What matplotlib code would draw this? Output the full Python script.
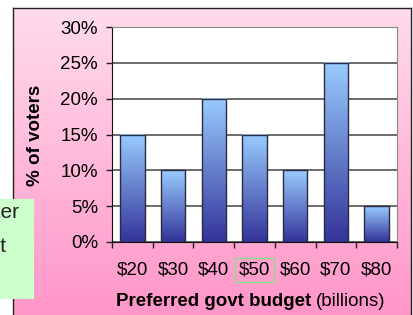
import numpy as np
import matplotlib.pyplot as plt
from matplotlib.colors import LinearSegmentedColormap
from matplotlib.patches import Rectangle

plt.rcParams['font.family'] = ['Liberation Sans', 'DejaVu Sans']

# data
budgets = ['$20', '$30', '$40', '$50', '$60', '$70', '$80']
share = [15, 10, 20, 15, 10, 25, 5]   # % of voters
y_ticks = [0, 5, 10, 15, 20, 25, 30]

W, H = 413, 315
fig = plt.figure(figsize=(W / 100, H / 100), dpi=100)
fig.patch.set_facecolor('white')

# pink gradient panel behind the chart
bg = fig.add_axes([13 / W, 0, 398 / W, 1 - 8 / H], zorder=0)
pink = LinearSegmentedColormap.from_list('pink', ['#ff96c8', '#ffdcec'])
bg.imshow(np.linspace(0, 1, 256).reshape(-1, 1), cmap=pink, aspect='auto',
          origin='lower', extent=(0, 1, 0, 1))
bg.set_xticks([])
bg.set_yticks([])
for s in bg.spines.values():
    s.set_color('#222222')
    s.set_linewidth(1)
bg.spines['bottom'].set_visible(False)

# main plot
ax = fig.add_axes([112 / W, 1 - 242 / H, 285 / W, 215 / H], zorder=2)
ax.set_facecolor('white')
x = np.arange(len(budgets))
bars = ax.bar(x, share, width=0.6, facecolor='none', edgecolor='#2a2a40',
              linewidth=1, zorder=3)

blue = LinearSegmentedColormap.from_list('blue', ['#333399', '#99ccff'])
grad = np.linspace(0, 1, 256).reshape(-1, 1)
for b in bars:
    x0, w, h = b.get_x(), b.get_width(), b.get_height()
    ax.imshow(grad, cmap=blue, aspect='auto', origin='lower',
              extent=(x0, x0 + w, 0, h), zorder=2)

ax.set_xlim(-0.5, len(budgets) - 0.5)
ax.set_ylim(0, 30)
ax.set_axisbelow(True)
ax.yaxis.grid(True, color='#444444', linewidth=1.1)

fs = 13.5
ax.set_yticks(y_ticks)
ax.set_yticklabels([f'{v}%' for v in y_ticks])
ax.tick_params(axis='y', direction='out', length=4, width=1, pad=6,
               labelsize=fs, color='#222222')

ax.set_xticks(x)
ax.set_xticklabels(budgets)
ax.set_xticks(np.arange(-0.5, len(budgets)), minor=True)
ax.tick_params(axis='x', which='major', length=0, pad=14, labelsize=fs)
ax.tick_params(axis='x', which='minor', direction='out', length=4, width=1,
               color='#222222')

for side in ['left', 'bottom']:
    ax.spines[side].set_color('#111111')
for side in ['top', 'right']:
    ax.spines[side].set_color('#888888')

ax.get_xticklabels()[3].set_bbox(dict(facecolor='none', edgecolor='#88dd88',
                                      linewidth=1, pad=2.5))

# axis titles
fig.text(35 / W, 1 - 135 / H, '% of voters', rotation=90, fontweight='bold',
         fontsize=fs, ha='center', va='center')
fig.text(311 / W, 1 - 302 / H, 'Preferred govt budget', fontweight='bold',
         fontsize=fs, ha='right', va='center')
fig.text(316 / W, 1 - 302 / H, '(billions)', fontsize=fs, ha='left',
         va='center')

# green note box cut off at the left edge
fig.patches.append(Rectangle((0, 1 - 299 / H), 34 / W, 100 / H,
                             transform=fig.transFigure, facecolor='#ccffcc',
                             edgecolor='none', zorder=5))
fig.text(19 / W, 1 - 203 / H, 'Median voter\nsets budget\nat $50', fontsize=15,
         ha='right', va='top', multialignment='left', linespacing=2.0,
         color='#222222', zorder=6)

fig.savefig('out.png', dpi=100)
